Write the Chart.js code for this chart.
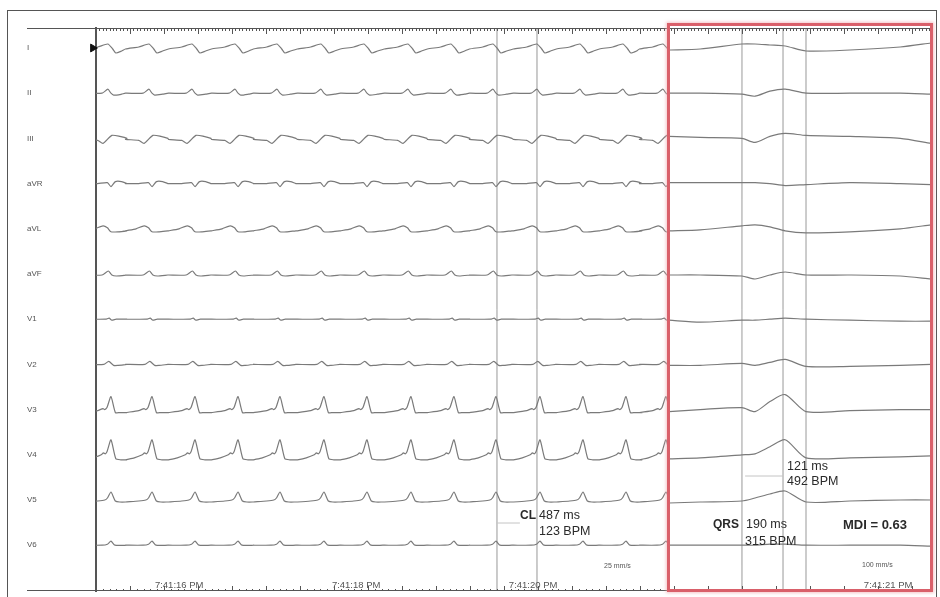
<!DOCTYPE html>
<html>
<head>
<meta charset="utf-8">
<script src="https://cdn.jsdelivr.net/npm/chart.js@4.4.1/dist/chart.umd.min.js"></script>
<style>
  html, body { margin: 0; padding: 0; background: #fff; }
  #wrap { position: relative; width: 940px; height: 597px; overflow: hidden; background: #fff;
          font-family: "Liberation Sans", Arial, sans-serif; }
  #frame { position: absolute; left: 7px; top: 10px; width: 928px; height: 600px;
           border: 1px solid #555; }
  canvas { position: absolute; top: 0; }
  #cL { left: 0; }
  #cR { left: 660px; }
  #redbox { position: absolute; left: 667px; top: 23px; width: 260px; height: 563px;
            border: 3px solid #d9606a; box-shadow: 0 0 3px 1px rgba(240,170,175,0.7); pointer-events: none; }
  .t { position: absolute; white-space: nowrap; line-height: 1; color: #2a2a2a; }
  .b { font-weight: bold; }
  .s { font-size: 7px; color: #555; }
</style>
</head>
<body>
<div id="wrap">
  <div id="frame"></div>
  <canvas id="cL" width="680" height="597"></canvas>
  <canvas id="cR" width="280" height="597"></canvas>
  <div id="redbox"></div>
  <div class="t b" style="left:520px;top:509px;font-size:12px;">CL</div>
  <div class="t" style="left:539px;top:509px;font-size:12.5px;">487 ms</div>
  <div class="t" style="left:539px;top:525px;font-size:12.5px;">123 BPM</div>
  <div class="t" style="left:787px;top:460px;font-size:12.5px;">121 ms</div>
  <div class="t" style="left:787px;top:475px;font-size:12.5px;">492 BPM</div>
  <div class="t b" style="left:713px;top:518px;font-size:12px;">QRS</div>
  <div class="t" style="left:746px;top:518px;font-size:12.5px;">190 ms</div>
  <div class="t" style="left:745px;top:535px;font-size:12.5px;">315 BPM</div>
  <div class="t b" style="left:843px;top:518px;font-size:13px;">MDI = 0.63</div>
  <div class="t s" style="left:604px;top:562px;">25 mm/s</div>
  <div class="t s" style="left:862px;top:561px;">100 mm/s</div>
</div>
<script>
// ---------------- DATA ----------------
const LEADS = ['I','II','III','aVR','aVL','aVF','V1','V2','V3','V4','V5','V6'];

// Left strip (25 mm/s): time in seconds
const LEFT_RANGE = [15.06, 21.535];
const BEAT_TIMES = [15.229, 15.693, 16.179, 16.665, 17.139, 17.636, 18.122, 18.619,
                    19.105, 19.580, 20.077, 20.563, 21.049, 21.501];
const LEFT_TICKS = [16, 18, 20];
const LEFT_TICK_LABELS = ['7:41:16 PM', '7:41:18 PM', '7:41:20 PM'];
const LEFT_CALIPERS = [19.591, 20.043];
const LEFT_HCAL_T = [19.591, 19.85];
const LEFT_HCAL_Y = -475;
const MARKER_T = 15.025;

// beat shape per lead: [ms offset from beat, amplitude]
const BEAT_SHAPES = [
  [[-300,-1],[-150,1],[-35,4],[20,-1],[55,-5],[120,-3]],                          // I
  [[-300,0],[-100,0],[-35,4],[0,0],[30,-2],[120,-1]],                             // II
  [[-300,-1],[-150,-2],[-90,-5],[10,3],[100,2],[180,0]],                          // III
  [[-300,0],[-150,0],[-40,1],[0,-3],[50,2],[120,2],[180,0]],                      // aVR
  [[-300,-2],[-180,0],[-90,3],[-40,1],[0,-3],[80,-3],[180,-2]],                   // aVL
  [[-300,-1],[-100,-1],[-30,3],[10,-1],[60,-2],[180,-1]],                         // aVF
  [[-300,0],[-60,0],[-20,1],[10,-1],[60,0],[180,0]],                              // V1
  [[-300,0],[-80,0],[-25,3],[30,-1],[80,-1],[180,0]],                             // V2
  [[-300,-3],[-150,-1],[-90,1],[-70,0],[-45,2],[0,13],[50,-3],[100,-3],[180,-3]], // V3
  [[-300,-5],[-200,-3],[-110,0],[-85,2],[-65,1],[-45,3],[0,15],[55,-4],[110,-5],[180,-5]], // V4
  [[-300,-2],[-150,-1],[-70,0],[-40,2],[0,8],[50,-1],[100,-2],[180,-2]],          // V5
  [[-300,0],[-100,0],[-40,1],[0,4],[45,0],[180,0]]                                // V6
];

// Right strip (100 mm/s): time in ms
const RIGHT_RANGE = [0, 740];
const RIGHT_MS = [0, 88, 206, 243, 285, 328, 387, 511, 653, 740];
const RIGHT_VALUES = [
  [-2,-1,4,4,3,2,-3,-2,1,5],      // I
  [0,0,-1,-3,2,4,0,0,0,-1],       // II
  [2,1,0,-4,2,5,3,2,0,-5],        // III
  [1,1,1,1,0,-2,-1,1,0,-1],       // aVR
  [-2,-1,3,4,2,-2,-4,-3,0,4],     // aVL
  [-1,-1,-2,-5,-1,2,-1,-1,-2,-5], // aVF
  [-1,-3,-1,-1,0,1,0,-1,-2,-2],   // V1
  [-1,-1,1,-1,2,5,-2,-2,-1,0],    // V2
  [-2,0,2,-2,8,15,-2,-1,0,0],     // V3
  [-4,-3,0,1,8,15,-3,-3,-2,-1],   // V4
  [-3,-2,-1,2,6,9,-2,-1,0,0],     // V5
  [0,0,0,0,1,1,0,0,0,-1]          // V6
];
const RIGHT_TICKS = [619];
const RIGHT_TICK_LABELS = ['7:41:21 PM'];
const RIGHT_CALIPERS = [206, 322, 387];
const RIGHT_HCAL_T = [215, 322];
const RIGHT_HCAL_Y = -428;

// ruler divisions (major units)
const LEFT_RULER = [0, 16.85];
const RIGHT_RULER = [-0.15, 7.56];

// ---------------- LAYOUT / STYLE ----------------
const LEAD_GAP = 45.2;
const Y_RANGE = [-543, 20];
const TRACE = '#7a7a7a';
const CAL = '#c4c4c4';
const FONT = '"Liberation Sans", Arial, sans-serif';

const rulerPlugin = {
  id: 'ruler',
  afterDraw(chart, args, opts) {
    const {ctx, chartArea: a} = chart;
    const r = chart.scales.r;
    const xs = chart.scales.x;
    const x0 = opts.x0 != null ? opts.x0 : a.left;
    ctx.save();
    ctx.strokeStyle = '#555';
    ctx.lineWidth = 1;
    ctx.beginPath();
    ctx.moveTo(x0, a.top + 0.5); ctx.lineTo(a.right, a.top + 0.5);
    ctx.moveTo(x0, a.bottom - 0.5); ctx.lineTo(a.right, a.bottom - 0.5);
    const lo = Math.ceil(r.min * 10), hi = Math.floor(r.max * 10);
    for (let v = lo; v <= hi; v++) {
      const dec = (v / 10 - r.min) / (r.max - r.min);
      const x = Math.round(a.left + dec * (a.right - a.left)) + 0.5;
      const major = v % 10 === 0;
      ctx.moveTo(x, a.top); ctx.lineTo(x, a.top + (major ? 6 : 3));
      if (v % 2 === 0) { ctx.moveTo(x, a.bottom); ctx.lineTo(x, a.bottom - (major ? 5 : 2)); }
    }
    ctx.stroke();
    // time labels from the x scale's ticks
    ctx.fillStyle = '#555';
    ctx.font = '9.5px ' + FONT;
    ctx.textAlign = 'center';
    ctx.textBaseline = 'middle';
    xs.ticks.forEach((t, i) => {
      ctx.fillText(opts.labels[i], xs.getPixelForValue(t.value), a.bottom - 6);
    });
    ctx.restore();
  }
};

function vline(t, color) {
  return { data: [{x: t, y: Y_RANGE[1]}, {x: t, y: Y_RANGE[0]}], borderColor: color,
           borderWidth: 1, pointRadius: 0, order: 10 };
}
function hline(ts, y) {
  return { data: ts.map(t => ({x: t, y: y})), borderColor: CAL, borderWidth: 1, pointRadius: 0, order: 10 };
}

function baseOptions(xr, ticks, labels, ruler, padding, showY, x0) {
  return {
    responsive: false, animation: false, events: [],
    layout: { padding: padding },
    plugins: { legend: { display: false }, tooltip: { enabled: false }, ruler: { x0: x0, labels: labels } },
    scales: {
      x: {
        type: 'linear', position: 'bottom', min: xr[0], max: xr[1],
        grid: { display: false, drawTicks: false }, border: { display: false },
        afterBuildTicks: s => { s.ticks = ticks.map(v => ({value: v})); },
        afterFit: s => { s.height = 6; },
        ticks: { display: false }
      },
      r: { type: 'linear', axis: 'x', position: 'top', display: false, min: ruler[0], max: ruler[1] },
      y: {
        type: 'linear', position: 'left', min: Y_RANGE[0], max: Y_RANGE[1], display: showY,
        grid: { display: true, drawOnChartArea: false, drawTicks: false },
        border: { display: true, color: '#555', width: 2 },
        afterBuildTicks: s => { s.ticks = LEADS.map((_, i) => ({value: -i * LEAD_GAP})); },
        afterFit: s => { s.width = showY ? 69 : 0; },
        ticks: { autoSkip: false, crossAlign: 'far', padding: 0, color: '#555',
                 font: { size: 8, family: FONT },
                 callback: (v, i) => LEADS[i] }
      }
    }
  };
}

// left strip datasets
const leftSets = LEADS.map((name, i) => {
  const pts = [];
  BEAT_TIMES.forEach(t => BEAT_SHAPES[i].forEach(([ms, a]) => pts.push({x: t + ms / 1000, y: a - i * LEAD_GAP})));
  return { label: name, data: pts, borderColor: TRACE, borderWidth: 1.2, pointRadius: 0, tension: 0.2, order: 0 };
});
LEFT_CALIPERS.forEach(t => leftSets.push(vline(t, CAL)));
leftSets.push(hline(LEFT_HCAL_T, LEFT_HCAL_Y));
leftSets.push({ data: [{x: MARKER_T, y: 0}], showLine: false, pointStyle: 'triangle', rotation: 90,
                pointRadius: 4.5, backgroundColor: '#111', borderColor: '#111', clip: false, order: -1 });

new Chart(document.getElementById('cL'), {
  type: 'line',
  data: { datasets: leftSets },
  options: baseOptions(LEFT_RANGE, LEFT_TICKS, LEFT_TICK_LABELS, LEFT_RULER,
                       { left: 27, right: 11, top: 28, bottom: 0 }, true, 27),
  plugins: [rulerPlugin]
});

// right strip datasets
const rightSets = LEADS.map((name, i) => ({
  label: name, data: RIGHT_VALUES[i].map((v, k) => ({x: RIGHT_MS[k], y: v - i * LEAD_GAP})),
  borderColor: TRACE, borderWidth: 1.2, pointRadius: 0, tension: 0.25, order: 0
}));
RIGHT_CALIPERS.forEach(t => rightSets.push(vline(t, CAL)));
rightSets.push(hline(RIGHT_HCAL_T, RIGHT_HCAL_Y));

new Chart(document.getElementById('cR'), {
  type: 'line',
  data: { datasets: rightSets },
  options: baseOptions(RIGHT_RANGE, RIGHT_TICKS, RIGHT_TICK_LABELS, RIGHT_RULER,
                       { left: 9, right: 9, top: 28, bottom: 0 }, false, null),
  plugins: [rulerPlugin]
});
</script>
</body>
</html>
